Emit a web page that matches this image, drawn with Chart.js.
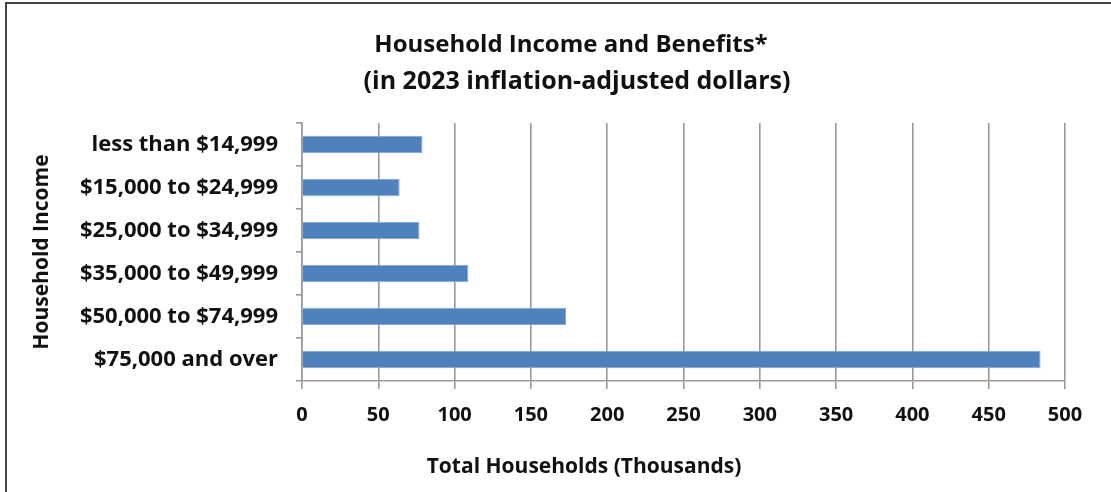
<!DOCTYPE html>
<html>
<head>
<meta charset="utf-8">
<script src="https://cdn.jsdelivr.net/npm/chart.js@4"></script>
<style>
    html, body { margin: 0; padding: 0; background: #fff; }
    #wrap { position: relative; width: 1111px; height: 492px; }
    #frame {
        position: absolute; left: 5px; top: 2px; right: -10px; bottom: -10px;
        border-top: 2px solid #444; border-left: 2px solid #444;
        pointer-events: none;
    }
</style>
</head>
<body>
<div id="wrap">
    <canvas id="income-chart"></canvas>
    <div id="frame"></div>
</div>
<script>
const TITLE_LINES = ['Household Income and Benefits*', '(in 2023 inflation-adjusted dollars)'];
const X_TITLE = 'Total Households (Thousands)';
const Y_TITLE = 'Household Income';
const CATEGORIES = [
    'less than $14,999',
    '$15,000 to $24,999',
    '$25,000 to $34,999',
    '$35,000 to $49,999',
    '$50,000 to $74,999',
    '$75,000 and over'
];
const HOUSEHOLDS = [79, 64, 77, 109, 173, 484];
const X_MIN = 0;
const X_MAX = 500;
const X_STEP = 50;

const FONT = '"Open Sans", Lato, sans-serif';
const BAR_COLOR = '#4f81bd';
const GRID_COLOR = '#999999';

// titles are drawn by hand so they can sit off the plot's centre line
const captions = {
    id: 'captions',
    afterDraw(chart) {
        const ctx = chart.ctx;
        ctx.save();
        ctx.fillStyle = '#111';
        ctx.textAlign = 'center';
        ctx.textBaseline = 'middle';
        ctx.font = 'bold 24px ' + FONT;
        ctx.fillText(TITLE_LINES[0], 571, 45);
        ctx.font = 'bold 25px ' + FONT;
        ctx.fillText(TITLE_LINES[1], 577, 82);
        ctx.font = 'bold 21px ' + FONT;
        ctx.fillText(X_TITLE, 584, 467);
        ctx.restore();
    }
};

function initConfig() {
    return {
        type: 'bar',
        data: {
            labels: CATEGORIES,
            datasets: [{
                label: 'Total Households',
                data: HOUSEHOLDS,
                backgroundColor: BAR_COLOR,
                borderColor: '#86a8d4',
                borderWidth: 1,
                barPercentage: 0.41,
                categoryPercentage: 1
            }]
        },
        options: {
            indexAxis: 'y',
            responsive: true,
            maintainAspectRatio: false,
            animation: false,
            layout: {
                padding: {left: 20, right: 46, top: 123, bottom: 20}
            },
            plugins: {
                legend: {display: false},
                title: {display: false},
                tooltip: {enabled: false}
            },
            scales: {
                x: {
                    min: X_MIN,
                    max: X_MAX,
                    afterFit(scale) { scale.height = 91; },
                    ticks: {
                        stepSize: X_STEP,
                        color: '#111',
                        padding: 14,
                        font: {family: FONT, size: 20, weight: 'bold'}
                    },
                    grid: {
                        color: GRID_COLOR,
                        lineWidth: 1.6,
                        tickLength: 8,
                        drawTicks: true
                    },
                    border: {color: GRID_COLOR, width: 1.6}
                },
                y: {
                    afterFit(scale) { scale.width = 282; },
                    ticks: {
                        color: '#111',
                        padding: 18,
                        font: {family: FONT, size: 22, weight: 'bold'}
                    },
                    grid: {
                        offset: true,
                        drawOnChartArea: false,
                        color: GRID_COLOR,
                        lineWidth: 1.6,
                        tickLength: 6
                    },
                    border: {color: GRID_COLOR, width: 1.6},
                    title: {
                        display: true,
                        text: Y_TITLE,
                        color: '#111',
                        padding: {top: 9, bottom: 10},
                        font: {family: FONT, size: 21, weight: 'bold'}
                    }
                }
            }
        },
        plugins: [captions]
    };
}

new Chart(document.getElementById('income-chart'), initConfig());
</script>
</body>
</html>
